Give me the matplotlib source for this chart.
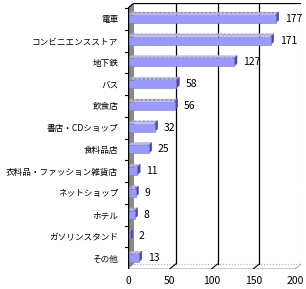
import matplotlib
matplotlib.use("Agg")
import matplotlib.pyplot as plt
from matplotlib.patches import Polygon, Rectangle

plt.rcParams['font.family'] = ['Noto Sans CJK JP', 'DejaVu Sans']

categories = ['電車', 'コンビニエンスストア', '地下鉄', 'バス', '飲食店', '書店・CDショップ',
              '食料品店', '衣料品・ファッション雑貨店', 'ネットショップ', 'ホテル',
              'ガソリンスタンド', 'その他']
values = [177, 171, 127, 58, 56, 32, 25, 11, 9, 8, 2, 13]
xticks = [0, 50, 100, 150, 200]

W, H = 306, 289
fig = plt.figure(figsize=(W / 100, H / 100), dpi=100)
fig.patch.set_facecolor('white')

# axes area in pixels: front-left x=128, back-right x=301, front floor y=269, back top y=3
ax = fig.add_axes([128 / W, (H - 269) / H, (301 - 128) / W, (269 - 3) / H])
px_per_x = (295 - 128) / 200.0
px_per_y = 21.75
n = len(categories)
ytop = (3 - 18.9) / px_per_y
ybot = n - 0.5
ax.set_xlim(0, (301 - 128) / px_per_x)
ax.set_ylim(ybot, ytop)
for s in ax.spines.values():
    s.set_visible(False)

dx, dy = 6 / px_per_x, -5 / px_per_y      # wall depth
bdx, bdy = 3 / px_per_x, -3 / px_per_y    # bar depth
bh = 8 / px_per_y

# left wall
ax.add_patch(Polygon([(0, ybot), (0, -0.5), (dx, -0.5 + dy), (dx, ybot + dy)],
                     closed=True, facecolor='#8a8a8a', edgecolor='#8a8a8a',
                     lw=0.0, zorder=1))
# back wall frame
ax.plot([dx, 200 + dx], [ytop, ytop], color='black', lw=0.9, zorder=2)
ax.plot([200 + dx, 200 + dx], [ytop, ybot + dy], color='#b0b0b0', lw=0.8, ls=':', zorder=2)
for xt in xticks[1:-1]:
    ax.plot([xt + dx, xt + dx], [ybot + dy, ytop], color='black', lw=0.9, zorder=2)
# floor
ax.plot([dx, 200 + dx], [ybot + dy, ybot + dy], color='#b0b0b0', lw=0.8, ls=':', zorder=2)
ax.plot([200, 200 + dx], [ybot, ybot + dy], color='#b0b0b0', lw=0.8, zorder=2)
for xt in xticks[1:-1]:
    ax.plot([xt, xt + dx], [ybot, ybot + dy], color='black', lw=0.8, zorder=2)
ax.plot([0, 200], [ybot, ybot], color='black', lw=1.0, zorder=5)
# front left axis
ax.plot([0, 0], [ybot, -0.5], color='black', lw=1.0, zorder=5)
ax.plot([0, dx], [-0.5, -0.5 + dy], color='black', lw=0.9, zorder=5)
for i in range(n):
    ax.plot([-3.5, 0], [i - 0.5, i - 0.5], color='black', lw=0.8, zorder=5, clip_on=False)

# bars
for i, v in enumerate(values):
    y0, y1 = i - bh / 2, i + bh / 2
    ax.add_patch(Polygon([(0, y0), (v, y0), (v + bdx, y0 + bdy), (bdx, y0 + bdy)],
                         closed=True, facecolor='#babae0', edgecolor='#9090b8',
                         hatch='....', lw=0, zorder=3))
    ax.add_patch(Polygon([(v, y0), (v, y1), (v + bdx, y1 + bdy), (v + bdx, y0 + bdy)],
                         closed=True, facecolor='#4a4ab0', edgecolor='#4a4ab0', lw=0.3, zorder=3))
    ax.add_patch(Rectangle((0, y0), v, bh, facecolor='#9999ff', edgecolor='#7a7ad8',
                           lw=0.4, zorder=4))
    ax.annotate(str(v), (v, i), xytext=(9, 0), textcoords='offset pixels',
                ha='left', va='center', fontsize=7.5, zorder=6)

ax.set_yticks(range(n))
ax.set_yticklabels(categories, fontsize=6.2)
ax.set_xticks(xticks)
ax.set_xticklabels([str(t) for t in xticks], fontsize=7.5)
ax.tick_params(axis='y', length=0, pad=7)
ax.tick_params(axis='x', length=0, pad=5)

fig.savefig('out.png', dpi=100, facecolor='white')
